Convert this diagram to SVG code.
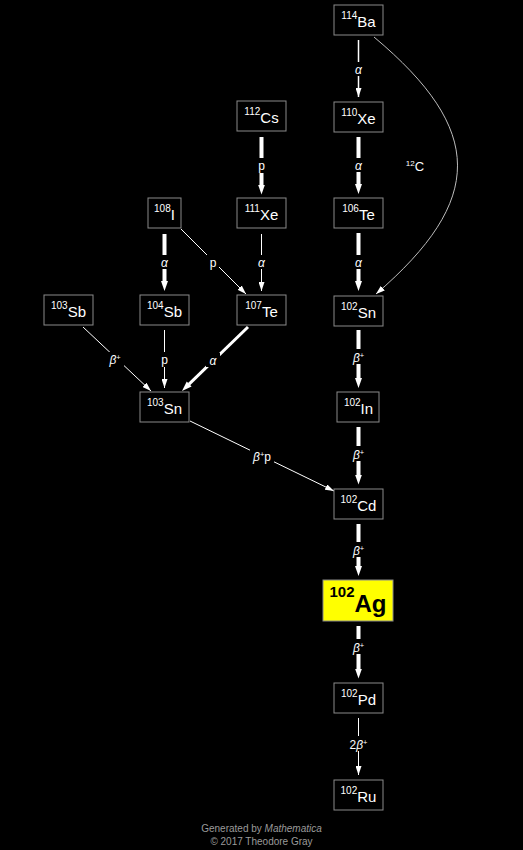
<svg xmlns="http://www.w3.org/2000/svg" width="523" height="850" viewBox="0 0 523 850">
<style>
.bx{fill:#000;stroke:#8a8a8a;stroke-width:1}
.nt{fill:#fff;font-family:"Liberation Sans",Arial,sans-serif;text-anchor:middle}
.m{font-size:10px}
.s{font-size:15px}
.c{fill:none;stroke:#fff}
.lb{fill:#fff;font-family:"Liberation Sans",Arial,sans-serif;font-size:12px;text-anchor:middle}
.it{font-style:italic}
.sp{font-size:7.5px}
.bg{fill:#000}
.ft{fill:#9a9a9a;font-family:"Liberation Sans",Arial,sans-serif;font-size:10px;text-anchor:middle}
</style>
<defs>
<marker id="a1" markerUnits="userSpaceOnUse" markerWidth="9" markerHeight="6" refX="9" refY="3" orient="auto"><path d="M0,0 L9,3 L0,6 z" fill="#fff"/></marker>
<marker id="a2" markerUnits="userSpaceOnUse" markerWidth="10" markerHeight="8" refX="0.5" refY="4" orient="auto"><path d="M0,0.5 L10,4 L0,7.5 z" fill="#fff"/></marker>
</defs>
<rect width="523" height="850" fill="#000"/>
<g id="connectors">
<path class="c" stroke-width="1.5" d="M358.5,40 L358.5,97" marker-end="url(#a1)"/>
<path class="c" stroke-width="4" d="M358.5,137 L358.5,184.5" marker-end="url(#a2)"/>
<path class="c" stroke-width="4" d="M358.5,233 L358.5,281.5" marker-end="url(#a2)"/>
<path class="c" stroke-width="4" d="M358.5,330 L358.5,378.5" marker-end="url(#a2)"/>
<path class="c" stroke-width="4" d="M358.5,427 L358.5,475" marker-end="url(#a2)"/>
<path class="c" stroke-width="4" d="M358.5,524 L358.5,566.5" marker-end="url(#a2)"/>
<path class="c" stroke-width="4" d="M358.5,626 L358.5,669" marker-end="url(#a2)"/>
<path class="c" stroke-width="1" d="M358.5,718 L358.5,775" marker-end="url(#a1)"/>
<path class="c" stroke-width="4" d="M261.5,137 L261.5,185" marker-end="url(#a2)"/>
<path class="c" stroke-width="1" d="M261.5,234 L261.5,291" marker-end="url(#a1)"/>
<path class="c" stroke-width="4" d="M164.5,234 L164.5,281.5" marker-end="url(#a2)"/>
<path class="c" stroke-width="1" d="M181,229 L246,294" marker-end="url(#a1)"/>
<path class="c" stroke-width="1" d="M164.5,330 L164.5,388" marker-end="url(#a1)"/>
<path class="c" stroke-width="1" d="M83,327 L151,391" marker-end="url(#a1)"/>
<path class="c" stroke-width="3" d="M248,327 L188.8,384.4" marker-end="url(#a2)"/>
<path class="c" stroke-width="1" d="M190,421 L334,491" marker-end="url(#a1)"/>
<path class="c" stroke-width="1" stroke="#bdbdbd" style="stroke:#bdbdbd" d="M374,37 C485,130 485,200 376,294" marker-end="url(#a1)"/>
<g id="labels">
<rect class="bg" x="352" y="62" width="13" height="14"/>
<text class="lb" x="358.5" y="74"><tspan class="it">α</tspan></text>
<rect class="bg" x="352" y="158" width="13" height="14"/>
<text class="lb" x="358.5" y="170"><tspan class="it">α</tspan></text>
<rect class="bg" x="352" y="255" width="13" height="14"/>
<text class="lb" x="358.5" y="267"><tspan class="it">α</tspan></text>
<rect class="bg" x="350" y="349" width="17" height="15"/>
<text class="lb" x="358.5" y="362"><tspan class="it">β</tspan><tspan class="sp" dy="-4">+</tspan></text>
<rect class="bg" x="350" y="446" width="17" height="15"/>
<text class="lb" x="358.5" y="459"><tspan class="it">β</tspan><tspan class="sp" dy="-4">+</tspan></text>
<rect class="bg" x="350" y="542" width="17" height="15"/>
<text class="lb" x="358.5" y="555"><tspan class="it">β</tspan><tspan class="sp" dy="-4">+</tspan></text>
<rect class="bg" x="350" y="639" width="17" height="15"/>
<text class="lb" x="358.5" y="652"><tspan class="it">β</tspan><tspan class="sp" dy="-4">+</tspan></text>
<rect class="bg" x="347" y="736" width="23" height="15"/>
<text class="lb" x="358.5" y="749">2<tspan class="it">β</tspan><tspan class="sp" dy="-4">+</tspan></text>
<rect class="bg" x="255" y="158" width="13" height="15"/>
<text class="lb" x="261.5" y="170">p</text>
<rect class="bg" x="255" y="255" width="13" height="14"/>
<text class="lb" x="261.5" y="267"><tspan class="it">α</tspan></text>
<rect class="bg" x="158" y="255" width="13" height="14"/>
<text class="lb" x="164.5" y="267"><tspan class="it">α</tspan></text>
<rect class="bg" x="207" y="255" width="12" height="15"/>
<text class="lb" x="213" y="267">p</text>
<rect class="bg" x="158" y="352" width="13" height="15"/>
<text class="lb" x="164.5" y="364">p</text>
<rect class="bg" x="107" y="352" width="17" height="15"/>
<text class="lb" x="115" y="364"><tspan class="it">β</tspan><tspan class="sp" dy="-4">+</tspan></text>
<rect class="bg" x="206" y="353" width="14" height="14"/>
<text class="lb" x="213" y="365"><tspan class="it">α</tspan></text>
<rect class="bg" x="250" y="449" width="24" height="15"/>
<text class="lb" x="262" y="461"><tspan class="it">β</tspan><tspan class="sp" dy="-4">+</tspan><tspan dy="4">p</tspan></text>
<text class="lb" x="415" y="171"><tspan font-size="8" dy="-5">12</tspan><tspan font-size="13" dy="5">C</tspan></text>
</g>
</g>
<g id="Ba114"><rect class="bx" x="334" y="5" width="49" height="30"/><text class="nt" x="358.5" y="27"><tspan class="m" dy="-8">114</tspan><tspan class="s" dy="8">Ba</tspan></text></g>
<g id="Xe110"><rect class="bx" x="334" y="102" width="49" height="30"/><text class="nt" x="358.5" y="124"><tspan class="m" dy="-8">110</tspan><tspan class="s" dy="8">Xe</tspan></text></g>
<g id="Te106"><rect class="bx" x="334" y="198" width="49" height="30"/><text class="nt" x="358.5" y="220"><tspan class="m" dy="-8">106</tspan><tspan class="s" dy="8">Te</tspan></text></g>
<g id="Sn102"><rect class="bx" x="334" y="296" width="49" height="30"/><text class="nt" x="358.5" y="318"><tspan class="m" dy="-8">102</tspan><tspan class="s" dy="8">Sn</tspan></text></g>
<g id="In102"><rect class="bx" x="337" y="392" width="42" height="30"/><text class="nt" x="358.5" y="414"><tspan class="m" dy="-8">102</tspan><tspan class="s" dy="8">In</tspan></text></g>
<g id="Cd102"><rect class="bx" x="334" y="489" width="49" height="30"/><text class="nt" x="358.5" y="511"><tspan class="m" dy="-8">102</tspan><tspan class="s" dy="8">Cd</tspan></text></g>
<g id="Ag102"><rect x="323" y="580" width="70" height="41" fill="#ffff00" stroke="#8a8a8a"/><text class="nt" x="358" y="612" style="fill:#000;font-weight:bold"><tspan font-size="15" dy="-15">102</tspan><tspan font-size="24" dy="15">Ag</tspan></text></g>
<g id="Pd102"><rect class="bx" x="334" y="683" width="49" height="30"/><text class="nt" x="358.5" y="705"><tspan class="m" dy="-8">102</tspan><tspan class="s" dy="8">Pd</tspan></text></g>
<g id="Ru102"><rect class="bx" x="334" y="780" width="49" height="30"/><text class="nt" x="358.5" y="802"><tspan class="m" dy="-8">102</tspan><tspan class="s" dy="8">Ru</tspan></text></g>
<g id="Cs112"><rect class="bx" x="237" y="101" width="49" height="30"/><text class="nt" x="261.5" y="123"><tspan class="m" dy="-8">112</tspan><tspan class="s" dy="8">Cs</tspan></text></g>
<g id="Xe111"><rect class="bx" x="237" y="198" width="49" height="30"/><text class="nt" x="261.5" y="220"><tspan class="m" dy="-8">111</tspan><tspan class="s" dy="8">Xe</tspan></text></g>
<g id="Te107"><rect class="bx" x="237" y="295" width="49" height="30"/><text class="nt" x="261.5" y="317"><tspan class="m" dy="-8">107</tspan><tspan class="s" dy="8">Te</tspan></text></g>
<g id="I108"><rect class="bx" x="148" y="198" width="33" height="30"/><text class="nt" x="164.5" y="220"><tspan class="m" dy="-8">108</tspan><tspan class="s" dy="8">I</tspan></text></g>
<g id="Sb104"><rect class="bx" x="140" y="295" width="49" height="30"/><text class="nt" x="164.5" y="317"><tspan class="m" dy="-8">104</tspan><tspan class="s" dy="8">Sb</tspan></text></g>
<g id="Sb103"><rect class="bx" x="44" y="295" width="49" height="30"/><text class="nt" x="68.5" y="317"><tspan class="m" dy="-8">103</tspan><tspan class="s" dy="8">Sb</tspan></text></g>
<g id="Sn103"><rect class="bx" x="140" y="392" width="49" height="30"/><text class="nt" x="164.5" y="414"><tspan class="m" dy="-8">103</tspan><tspan class="s" dy="8">Sn</tspan></text></g>
<g id="footer">
<text class="ft" x="261.5" y="832">Generated by <tspan font-style="italic">Mathematica</tspan></text>
<text class="ft" x="261.5" y="845">© 2017 Theodore Gray</text>
</g>
</svg>
